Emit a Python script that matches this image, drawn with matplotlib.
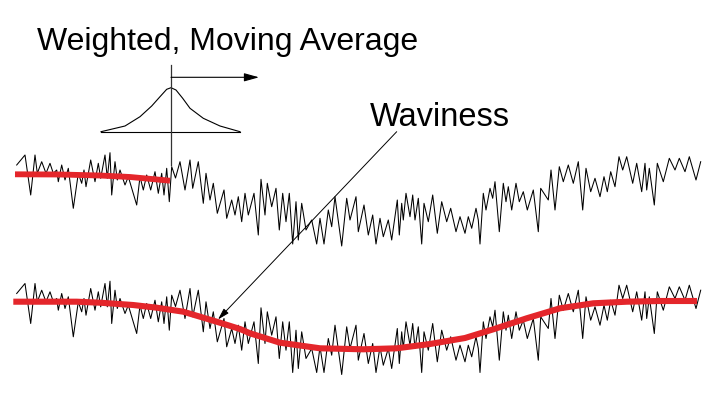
import numpy as np
import matplotlib.pyplot as plt

# roughness profile (x, y in image pixels, y down)
profile_x = [16.7, 25, 30.7, 35, 37.3, 41.7, 46, 50, 53.3, 56.7, 58.3, 61.7, 65, 68.3, 73.3,
             78.3, 81.7, 84, 86, 90.7, 95, 98.3, 100.7, 105, 107.3, 110, 111.7, 115, 117.3, 120,
             125, 128.3, 136.7, 140, 143.3, 146.7, 150.7, 155, 158.3, 161.7, 164, 166.7, 169.3,
             171.7, 175.5,
             180, 185, 190, 192.7, 198.3, 203.3, 206, 210, 213.3, 217.3, 224, 226.7, 231.7, 235,
             238.3, 241.7, 245, 248.3, 254, 258.3, 261, 265, 267.3, 271.7, 276, 279.3, 282.7, 286,
             289.3, 292.7, 296, 298.3, 301.7, 306, 311.7, 316.7, 320, 324, 328.3, 331.7, 335,
             341.7, 346.7,
             350, 356, 358.3, 364, 368.3, 372.7, 376, 380, 383.3, 388.3, 391.7, 397.3, 399.3, 401.7,
             403.3, 406, 410, 412.7, 415, 418.3, 421.7, 424, 428.3, 432.7, 437.3, 441.7, 446.7,
             450.7, 456, 460, 465, 468.3, 471.7, 476, 478.3, 480, 483.3, 486, 490, 492.7, 495,
             499.3, 503.3, 506, 508.3, 511.7, 516, 519.3, 523.3,
             527.3, 533.3, 538.3, 540.7, 548.3, 551, 555, 559.3, 563.3, 568.3, 573.3, 578.3, 582.7,
             586, 590.7, 595, 600, 604, 607.3, 610.7, 615, 619, 622.7, 626.7, 632.7, 636.7, 641.7,
             645, 646.7, 649.3, 654.3, 657.3, 663.3, 669.3, 675, 679.3, 685, 689.3, 696, 700.7]
profile_y = [165, 155, 195, 155, 173.3, 161.7, 173.3, 163.3, 173.3, 170, 181.7, 165, 180, 168.3, 208.3,
             173.3, 183.3, 170, 186.7, 160, 181.7, 163.3, 178.3, 155, 178.3, 152.7, 195, 161.7, 180, 170,
             185, 176.7, 205, 176.7, 190, 175, 190, 171.7, 193.3, 173.3, 195, 168.3, 201.7,
             166.7, 178,
             161.7, 190, 160, 188.3, 161.7, 203.3, 173.3, 200, 183.3, 213.3, 190, 218.3, 200, 215,
             196.7, 221.7, 193.3, 215, 193.3, 235, 179.3, 215, 183.3, 206.7, 188.3, 230, 193.3, 221.7,
             193.3, 244, 201.7, 240, 203.3, 230, 220, 244, 218.3, 244, 210, 226.7, 196.7,
             246, 198.3,
             220, 196.7, 231.7, 205, 235, 215, 244, 218.3, 236.7, 220, 240, 200, 235, 203.3,
             220, 193.3, 216.7, 195, 220, 198.3, 244, 203.3, 221.7, 195, 233.3, 201.7, 221.7,
             208.3, 231.7, 216.7, 233.3, 216.7, 228.3, 208.3, 220, 244, 193.3, 210, 188.3, 198.3, 181.7,
             231.7, 183.3, 201.7, 186.7, 210, 183.3, 201.7, 191.7,
             210, 190, 231.7, 188.3, 200, 170, 210, 166.7, 181.7, 165, 183.3, 161.7, 210,
             168.3, 191.7, 178.3, 196.7, 176.7, 191.7, 171.7, 186.7, 156.7, 170, 156.7, 183.3, 163.3, 191.7,
             163.3, 190, 168.3, 205, 163.3, 181.7, 158.3, 170, 158.3, 171.7, 156.7, 180, 161.7]

# shift of the lower copy of the profile
offset = 128.5

# waviness (red)
wav_x = [13.3, 76.7, 100, 133, 156.7, 183.3, 216.7, 240, 250, 280, 320, 363.3, 396.7,
         430, 465, 493.3, 526.7, 560, 593.3, 626.7, 660, 697]
wav_y = [301.7, 301.7, 302.7, 305, 307.7, 311.7, 321.7, 329, 333.3, 342.7, 348.3, 349.3, 348.3,
         344, 338, 329.3, 318.3, 308.3, 303.3, 301.7, 301, 301]

# partial waviness on the upper trace
top_wav_x = [15, 60, 100, 130, 170]
top_wav_y = [174.3, 174.5, 175.5, 177, 180.7]

# weighting function sketch
bell_x = [101, 125, 140, 151.7, 160, 166.7, 171, 176, 182.7, 190, 203.3, 220, 240]
bell_y = [131.7, 126, 116.7, 106, 96.7, 89.3, 87.7, 90, 98.3, 108.3, 118.3, 126, 131.7]

red = '#e4262b'

fig = plt.figure(figsize=(7.16, 3.93), dpi=100)
ax = fig.add_axes([0, 0, 1, 1])
ax.set_xlim(0, 716)
ax.set_ylim(393, 0)
ax.set_axis_off()

px = np.array(profile_x)
py = np.array(profile_y)

# upper and lower profiles
ax.plot(px, py, color='black', lw=0.75)
ax.plot(px, py + offset, color='black', lw=0.75)

ax.plot(top_wav_x, top_wav_y, color=red, lw=4.2, solid_capstyle='butt', zorder=3)
ax.plot(wav_x, wav_y, color=red, lw=4.4, solid_capstyle='butt', zorder=3)

# weighting function
ax.plot(bell_x, bell_y, color='black', lw=0.8)
ax.plot([bell_x[0], bell_x[-1]], [131.7, 131.7], color='black', lw=0.8)
ax.plot([171, 171], [65, 165], color='#333333', lw=0.9)
ax.annotate('', xy=(259, 77.3), xytext=(171, 77.3),
            arrowprops=dict(arrowstyle='-|>,head_length=0.9,head_width=0.25',
                            color='black', lw=0.8, shrinkA=0, shrinkB=0))

ax.text(37, 50, 'Weighted, Moving Average', fontsize=23, family='Liberation Sans',
        va='baseline', ha='left')
ax.text(370, 126, 'Waviness', fontsize=23.5, family='Liberation Sans',
        va='baseline', ha='left')
ax.annotate('', xy=(218, 319.5), xytext=(396.7, 131.7),
            arrowprops=dict(arrowstyle='-|>,head_length=0.7,head_width=0.2',
                            color='black', lw=0.7, shrinkA=0, shrinkB=0))

plt.savefig('out.png', dpi=100)
